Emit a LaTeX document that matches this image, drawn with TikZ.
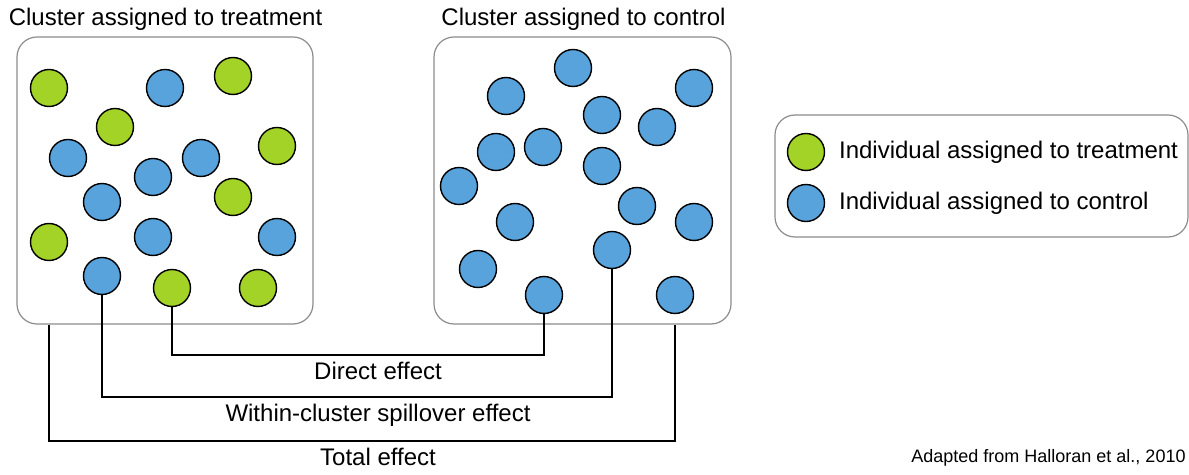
\documentclass[tikz,border=0pt]{standalone}
\usepackage{fontspec}
\setmainfont{Liberation Sans}
\usepackage{xcolor}
\usepackage{tikz}
\usetikzlibrary{calc, positioning}

\definecolor{trtgreen}{RGB}{162,211,38}
\definecolor{ctlblue}{RGB}{88,163,220}

\tikzset{
    person/.style={circle, draw=black, line width=0.7pt, minimum size=18.5pt, inner sep=0},
    trt/.style={person, fill=trtgreen},
    ctl/.style={person, fill=ctlblue},
    cluster/.style={draw=black!45, line width=0.6pt, rounded corners=10pt},
    effect/.style={black, line width=0.6pt},
    txt/.style={inner sep=0, font=\fontsize{12}{14}\selectfont}
}

\begin{document}
\begin{tikzpicture}[x=0.5pt, y=-0.5pt]
        \useasboundingbox (0,0) rectangle (1189,475);

        % clusters
        \node[cluster, minimum width=148pt, minimum height=143.5pt] (boxT) at (165,180.5) {};
        \node[cluster, minimum width=148.5pt, minimum height=143.5pt] (boxC) at (582.5,180.5) {};
        \node[txt, anchor=base] (titleT) at (165.5,26) {Cluster assigned to treatment};
        \node[txt, anchor=base] (titleC) at (583.5,26) {Cluster assigned to control};

        % treatment cluster
        \foreach \i/\x/\y in {1/49/88,2/233/76,3/115/127,4/277/146,5/233/197,6/49/242,7/172/288,8/258/288}
        {
            \node[trt] (t\i) at (\x,\y) {};
        }
        \foreach \i/\x/\y in {1/165/88,2/68/158,3/201/158,4/153/177,5/102/202,6/153/237,7/277/237,8/102/276}
        {
            \node[ctl] (s\i) at (\x,\y) {};
        }

        % control cluster
        \foreach \i/\x/\y in {1/573/68,2/506/96,3/694/88,4/602/115,5/657/127,6/496/152,7/543/147,8/602/166,9/459/186,10/637/206,11/515/222,12/694/222,13/612/250,14/478/269,15/544/295,16/675/295}
        {
            \node[ctl] (c\i) at (\x,\y) {};
        }

        % legend
        \node[cluster, minimum width=206.5pt, minimum height=61pt] (legend) at (981.5,176) {};
        \node[trt] (legT) at (806,152) {};
        \node[ctl] (legC) at (806,203) {};
        \node[txt, right=6.75pt of legT] (legTtxt) {Individual assigned to treatment};
        \node[txt, right=6.75pt of legC] (legCtxt) {Individual assigned to control};

        % lines and text
        % direct
        \coordinate (direct) at (378,355);
        \draw[effect] (t7.south) -- (t7 |- direct) -- (c15 |- direct) -- (c15.south);
        \node[txt, anchor=base] (directlab) at (378,380) {Direct effect};

        % within-cluster spillover
        \coordinate (spill) at (378,397);
        \draw[effect] (s8.south) -- (s8 |- spill) -- (c13 |- spill) -- (c13.south);
        \node[txt, anchor=base] (spilllab) at (378,422) {Within-cluster spillover effect};

        % total
        \coordinate (total) at (378,441);
        \draw[effect] (t6 |- boxT.south) -- (t6 |- total) -- (c16 |- total) -- (c16 |- boxC.south);
        \node[txt, anchor=base] (totallab) at (378,466) {Total effect};

        \node[inner sep=0, anchor=base west, font=\fontsize{9}{11}\selectfont] (source) at (911,463) {Adapted from Halloran et al., 2010};
    \end{tikzpicture}
\end{document}
